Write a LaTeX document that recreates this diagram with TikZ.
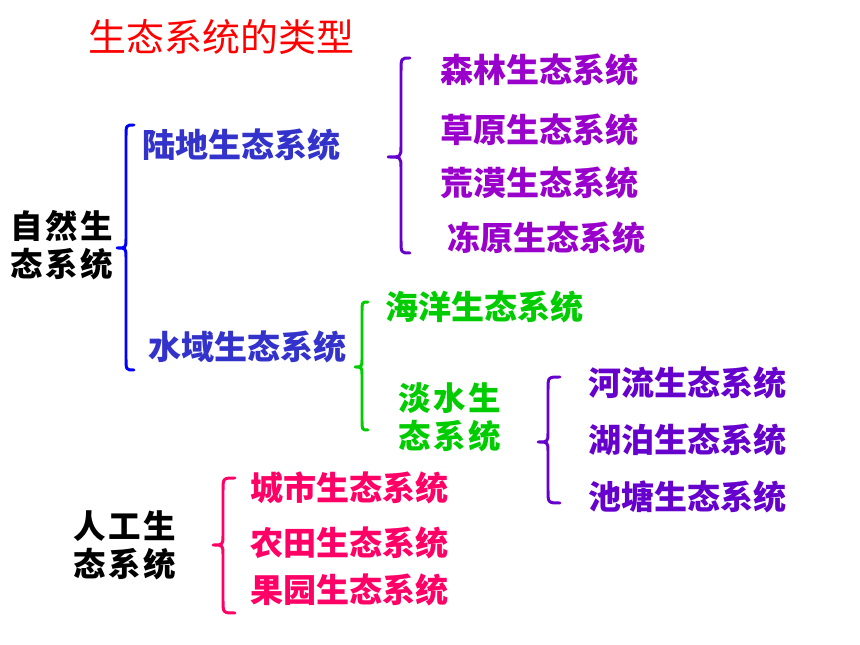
\documentclass[tikz,border=0pt]{standalone}
\usepackage{fontspec}
\newfontfamily\cjk{Noto Sans CJK SC}
\definecolor{ttlred}{HTML}{FF0000}
\definecolor{bluetxt}{HTML}{3333CC}
\definecolor{bluebr}{HTML}{0000FF}
\definecolor{purtxt}{HTML}{9900CC}
\definecolor{purbr}{HTML}{6600CC}
\definecolor{greentxt}{HTML}{00CC00}
\definecolor{pinktxt}{HTML}{FF0066}
\newcommand{\gp}{\hspace{1.5pt}}
\tikzset{
  lbl/.style={anchor=west,inner sep=0pt,font=\cjk\bfseries\fontsize{18.8pt}{22pt}\selectfont},
  cat/.style={anchor=west,inner sep=0pt,align=left,font=\cjk\bfseries\fontsize{18.5pt}{21.5pt}\selectfont},
  brc/.style={line width=1.7pt,line cap=round,line join=round},
}
\begin{document}
\begin{tikzpicture}[x=0.02cm,y=-0.02cm]
\useasboundingbox (0,0) rectangle (860,645);
% title
\node[anchor=west,inner sep=0pt,text=ttlred,font=\cjk\fontsize{21.6pt}{24pt}\selectfont] (title) at (88,37) {生态系统的类型};
% natural
\node[cat,text=black] (nat) at (10,245) {自\gp 然\gp 生\\态\gp 系\gp 统};
\node[lbl,text=bluetxt] (land) at (142,145) {陆地生态系统};
\node[lbl,text=bluetxt] (water) at (148,347) {水域生态系统};
\node[lbl,text=purtxt] (forest) at (440,70) {森林生态系统};
\node[lbl,text=purtxt] (grass) at (440,130) {草原生态系统};
\node[lbl,text=purtxt] (desert) at (440,183) {荒漠生态系统};
\node[lbl,text=purtxt] (tundra) at (447,238) {冻原生态系统};
\node[lbl,text=greentxt] (ocean) at (385,307) {海洋生态系统};
\node[cat,text=greentxt] (fresh) at (398,417) {淡\gp 水\gp 生\\态\gp 系\gp 统};
\node[lbl,text=purbr] (river) at (588,383) {河流生态系统};
\node[lbl,text=purbr] (lake) at (588,440) {湖泊生态系统};
\node[lbl,text=purbr] (pond) at (588,497) {池塘生态系统};
% artificial
\node[cat,text=black] (art) at (73,545) {人\gp 工\gp 生\\态\gp 系\gp 统};
\node[lbl,text=pinktxt] (city) at (250,488) {城市生态系统};
\node[lbl,text=pinktxt] (farm) at (250,543) {农田生态系统};
\node[lbl,text=pinktxt] (orch) at (250,590) {果园生态系统};
% braces
\draw[brc,bluebr] (134,125) .. controls (126,125) .. (126,137) -- (126,238) .. controls (126,248) .. (117,248) .. controls (126,248) .. (126,258) -- (126,358) .. controls (126,370) .. (134,370);
\draw[brc,purbr] (410,58) .. controls (401,58) .. (401,72) -- (401,146) .. controls (401,157) .. (388,157) .. controls (401,157) .. (401,168) -- (401,240) .. controls (401,253) .. (410,253);
\draw[brc,greentxt] (368,302) .. controls (362,302) .. (362,312) -- (362,358) .. controls (362,367) .. (355,367) .. controls (362,367) .. (362,376) -- (362,420) .. controls (362,430) .. (368,430);
\draw[brc,purbr] (560,377) .. controls (548,377) .. (548,390) -- (548,432) .. controls (548,442) .. (538,442) .. controls (548,442) .. (548,452) -- (548,490) .. controls (548,503) .. (560,503);
\draw[brc,pinktxt] (235,478) .. controls (223,478) .. (223,491) -- (223,535) .. controls (223,545) .. (213,545) .. controls (223,545) .. (223,555) -- (223,600) .. controls (223,613) .. (235,613);
\end{tikzpicture}
\end{document}
